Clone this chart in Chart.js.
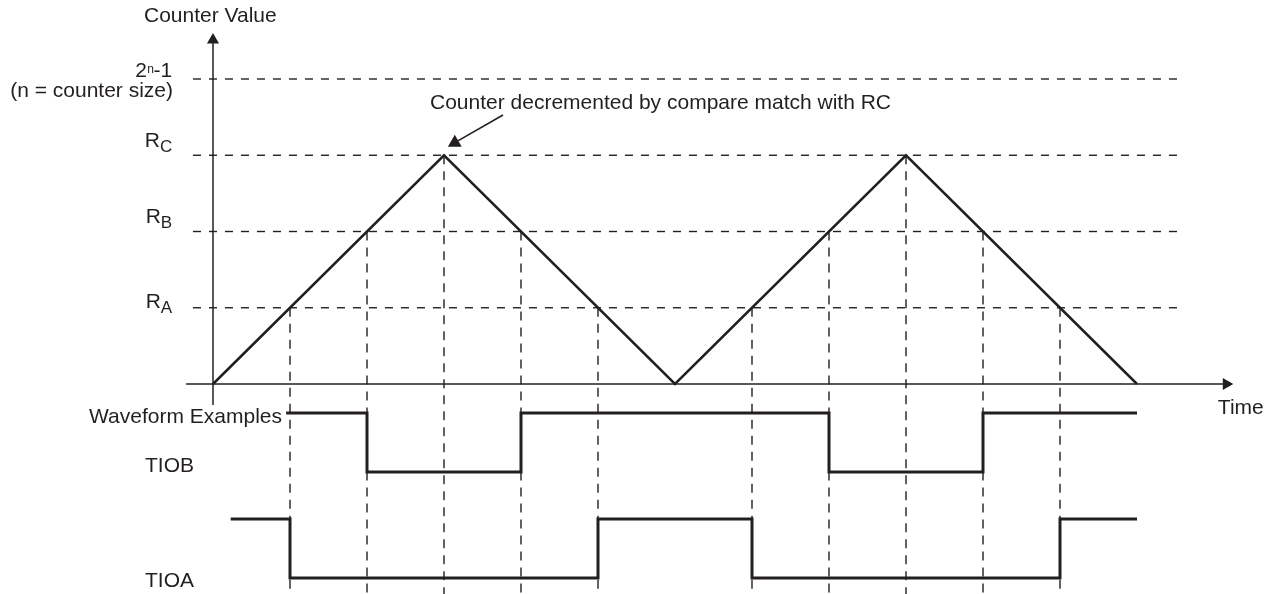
<!DOCTYPE html>
<html>
<head>
<meta charset="utf-8">
<script src="https://cdn.jsdelivr.net/npm/chart.js@4/dist/chart.umd.min.js"></script>
<style>
body { margin: 0; background: #fff; }
</style>
</head>
<body>
<canvas id="grafica" width="1273" height="594"></canvas>
<script>
// contador (diente de sierra triangular)
const counterTime = [0, 3, 6, 9, 12];
const counterValue = [0, 3, 0, 3, 0];

// niveles de comparacion
const levelValues = [4, 3, 2, 1];
const levelLabels = ["2n-1", "RC", "RB", "RA"];

// cruces del contador con los niveles
const crossTime = [1, 2, 3, 4, 5, 7, 8, 9, 10, 11];
const crossValue = [1, 2, 3, 2, 1, 1, 2, 3, 2, 1];

// formas de onda
const tiobTime = [0.95, 2, 4, 8, 10, 12];
const tiobValue = [-0.38, -1.154, -0.38, -1.154, -0.38, -0.38];
const tioaTime = [0.23, 1, 5, 7, 11, 12];
const tioaValue = [-1.77, -2.545, -1.77, -2.545, -1.77, -1.77];

const tinta = "#231f20";
const fuente = '"Liberation Sans", Arial, sans-serif';

function puntos(xs, ys) {
    return xs.map((x, i) => ({ x: x, y: ys[i] }));
}

const datasets = [];

// contador
datasets.push({
    data: puntos(counterTime, counterValue),
    borderColor: tinta, borderWidth: 2.5, pointRadius: 0
});

// ondas
datasets.push({
    data: puntos(tiobTime, tiobValue),
    borderColor: tinta, borderWidth: 3, pointRadius: 0, stepped: "before"
});
datasets.push({
    data: puntos(tioaTime, tioaValue),
    borderColor: tinta, borderWidth: 3, pointRadius: 0, stepped: "before"
});

// ejes con flecha
datasets.push({
    data: [{ x: -0.35, y: 0 }, { x: 13.16, y: 0 }],
    borderColor: tinta, borderWidth: 1.5,
    pointRadius: [0, 7], pointStyle: "triangle", rotation: 90,
    pointBackgroundColor: tinta, pointBorderWidth: 0
});
datasets.push({
    data: [{ x: 0, y: -0.275 }, { x: 0, y: 4.51 }],
    borderColor: tinta, borderWidth: 1.5,
    pointRadius: [0, 7], pointStyle: "triangle", rotation: 0,
    pointBackgroundColor: tinta, pointBorderWidth: 0
});

// flecha de la anotacion
datasets.push({
    data: [{ x: 3.766, y: 3.528 }, { x: 3.14, y: 3.165 }],
    borderColor: tinta, borderWidth: 1.6,
    pointRadius: [0, 8], pointStyle: "triangle", rotation: 240,
    pointBackgroundColor: tinta, pointBorderWidth: 0
});

// lineas discontinuas horizontales
levelValues.forEach(v => {
    datasets.push({
        data: [{ x: -0.26, y: v }, { x: 12.52, y: v }],
        borderColor: tinta, borderWidth: 1.4, borderDash: [8, 8], pointRadius: 0
    });
});

// lineas discontinuas verticales
crossTime.forEach((t, i) => {
    datasets.push({
        data: [{ x: t, y: crossValue[i] }, { x: t, y: -2.76 }],
        borderColor: tinta, borderWidth: 1.4, borderDash: [9, 7], pointRadius: 0
    });
});

function subindice(ctx, base, sub, xDer, yBase) {
    ctx.font = "21px " + fuente;
    const w1 = ctx.measureText(base).width;
    ctx.font = "17px " + fuente;
    const w2 = ctx.measureText(sub).width;
    const x0 = xDer - w1 - w2;
    ctx.font = "21px " + fuente;
    ctx.fillText(base, x0, yBase);
    ctx.font = "17px " + fuente;
    ctx.fillText(sub, x0 + w1, yBase + 5);
}

const textos = {
    id: "textos",
    afterDatasetsDraw(chart) {
        const ctx = chart.ctx;
        const px = v => chart.scales.x.getPixelForValue(v);
        const py = v => chart.scales.y.getPixelForValue(v);
        ctx.save();
        ctx.fillStyle = tinta;
        ctx.textBaseline = "alphabetic";
        ctx.textAlign = "left";
        ctx.font = "21px " + fuente;

        ctx.fillText("Counter Value", px(-0.896), py(4.748));
        ctx.fillText("Counter decremented by compare match with RC", px(2.818), py(3.607));
        ctx.fillText("TIOB", px(-0.883), py(-1.154));
        ctx.fillText("TIOA", px(-0.883), py(-2.662));
        ctx.fillText("Time", px(13.05), py(-0.393));

        ctx.textAlign = "right";
        ctx.fillText("Waveform Examples", px(0.896), py(-0.511));
        ctx.fillText("(n = counter size)", px(-0.519), py(3.76));

        // 2^n-1
        ctx.textAlign = "left";
        const xDer = px(-0.53);
        const yTop = py(levelValues[0]) - 2;
        ctx.font = "21px " + fuente;
        const wDos = ctx.measureText("2").width;
        const wMenos = ctx.measureText("-1").width;
        ctx.font = "12px " + fuente;
        const wN = ctx.measureText("n").width;
        let x0 = xDer - wDos - wN - wMenos;
        ctx.font = "21px " + fuente;
        ctx.fillText("2", x0, yTop);
        ctx.font = "12px " + fuente;
        ctx.fillText("n", x0 + wDos + 0.5, yTop - 4);
        ctx.font = "21px " + fuente;
        ctx.fillText("-1", x0 + wDos + wN, yTop);

        // R_C, R_B, R_A
        const desfase = [0, -8, -9, 0];
        for (let i = 1; i < levelLabels.length; i++) {
            const etiqueta = levelLabels[i];
            subindice(ctx, etiqueta[0], etiqueta.slice(1), xDer, py(levelValues[i]) + desfase[i]);
        }
        ctx.restore();
    }
};

new Chart(document.getElementById("grafica"), {
    type: "line",
    data: { datasets: datasets },
    options: {
        responsive: false,
        animation: false,
        events: [],
        layout: { padding: 0, autoPadding: false },
        plugins: { legend: { display: false }, tooltip: { enabled: false } },
        scales: {
            x: { type: "linear", display: false, min: -213 / 77, max: (1273 - 213) / 77 },
            y: { type: "linear", display: false, min: -(594 - 384) / 76.25, max: 384 / 76.25 }
        }
    },
    plugins: [textos]
});
</script>
</body>
</html>
